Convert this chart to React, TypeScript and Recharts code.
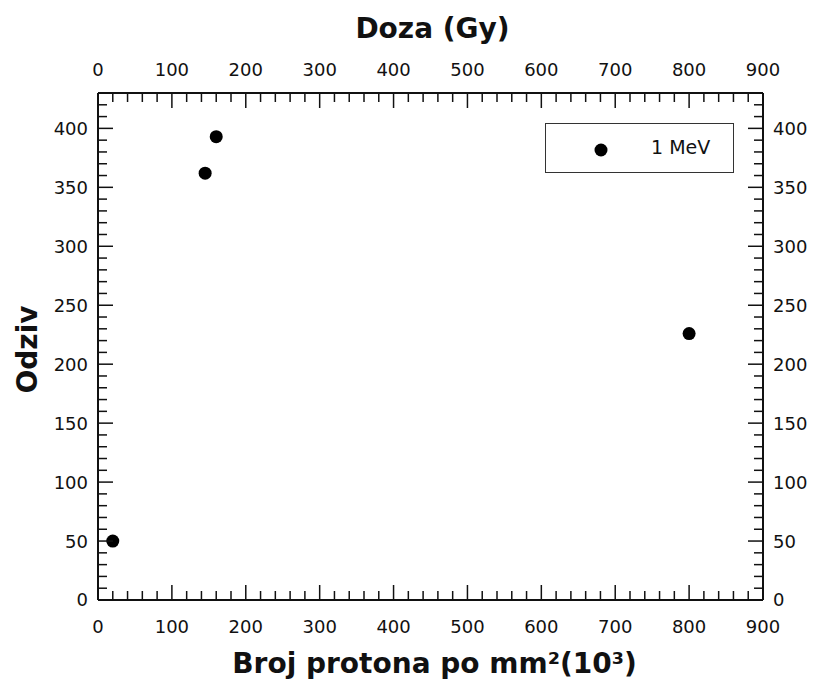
import {
  ScatterChart,
  Scatter,
  XAxis,
  YAxis,
  Legend,
  Label,
} from "recharts";

const FONT = "'DejaVu Sans', Verdana, sans-serif";
const INK = "#111";

// protons per mm^2 (10^3) / dose axis share the same scale
const PROTONS = [20, 145, 160, 800];
const ODZIV = [50, 362, 393, 226];
const SERIES_NAME = "1 MeV";

const X_TICKS = Array.from({ length: 46 }, (_, i) => i * 20);
const Y_TICKS = Array.from({ length: 43 }, (_, i) => i * 10);

const MAJOR = 15;
const MINOR = 9;
const TICK_FONT = 18;
const TITLE_FONT = 28;

const data = PROTONS.map((x, i) => ({ x, y: ODZIV[i] }));

function BottomTick(props: any) {
  const { x, y, payload } = props;
  const major = payload.value % 100 === 0;
  return (
    <g>
      <line x1={x} x2={x} y1={y} y2={y - (major ? MAJOR : MINOR)} stroke={INK} strokeWidth={1.5} />
      {major && (
        <text x={x} y={y + 33} textAnchor="middle" fontSize={TICK_FONT} fontFamily={FONT} fill={INK}>
          {payload.value}
        </text>
      )}
    </g>
  );
}

function TopTick(props: any) {
  const { x, y, payload } = props;
  const major = payload.value % 100 === 0;
  return (
    <g>
      <line x1={x} x2={x} y1={y} y2={y + (major ? MAJOR : MINOR)} stroke={INK} strokeWidth={1.5} />
      {major && (
        <text x={x} y={y - 17} textAnchor="middle" fontSize={TICK_FONT} fontFamily={FONT} fill={INK}>
          {payload.value}
        </text>
      )}
    </g>
  );
}

function LeftTick(props: any) {
  const { x, y, payload } = props;
  const major = payload.value % 50 === 0;
  return (
    <g>
      <line x1={x} x2={x + (major ? MAJOR : MINOR)} y1={y} y2={y} stroke={INK} strokeWidth={1.5} />
      {major && (
        <text x={x - 10} y={y} dy="0.36em" textAnchor="end" fontSize={TICK_FONT} fontFamily={FONT} fill={INK}>
          {payload.value}
        </text>
      )}
    </g>
  );
}

function RightTick(props: any) {
  const { x, y, payload } = props;
  const major = payload.value % 50 === 0;
  return (
    <g>
      <line x1={x} x2={x - (major ? MAJOR : MINOR)} y1={y} y2={y} stroke={INK} strokeWidth={1.5} />
      {major && (
        <text x={x + 10} y={y} dy="0.36em" textAnchor="start" fontSize={TICK_FONT} fontFamily={FONT} fill={INK}>
          {payload.value}
        </text>
      )}
    </g>
  );
}

function Dot(props: any) {
  return <circle cx={props.cx} cy={props.cy} r={6.5} fill="#000" />;
}

function NoDot() {
  return <g />;
}

function LegendBox() {
  return (
    <div
      style={{
        width: 189,
        height: 50,
        boxSizing: "border-box",
        border: "1.5px solid #333",
        background: "#fff",
        position: "relative",
        fontFamily: FONT,
        fontSize: 19,
        color: INK,
      }}
    >
      <svg width={20} height={20} style={{ position: "absolute", left: 45, top: 16 }}>
        <circle cx={10} cy={10} r={6.5} fill="#000" />
      </svg>
      <span style={{ position: "absolute", left: 105, top: 12 }}>{SERIES_NAME}</span>
    </div>
  );
}

const axisLine = { stroke: INK, strokeWidth: 2 };

export default function App() {
  return (
    <ScatterChart width={812} height={678} margin={{ top: 0, right: 0, bottom: 0, left: 0 }}>
      <XAxis
        xAxisId="bottom"
        type="number"
        dataKey="x"
        orientation="bottom"
        domain={[0, 900]}
        ticks={X_TICKS}
        interval={0}
        height={86}
        tickSize={0}
        tickMargin={0}
        axisLine={axisLine}
        tick={<BottomTick />}
      >
        <Label
          content={(p: any) => {
            const vb = p.viewBox;
            return (
              <text x={vb.x + vb.width / 2 + 4} y={vb.y + 73} textAnchor="middle" fontSize={TITLE_FONT} fontWeight="bold" fontFamily={FONT} fill={INK}>
                Broj protona po mm²(10³)
              </text>
            );
          }}
        />
      </XAxis>
      <XAxis
        xAxisId="top"
        type="number"
        dataKey="x"
        orientation="top"
        domain={[0, 900]}
        ticks={X_TICKS}
        interval={0}
        height={85}
        tickSize={0}
        tickMargin={0}
        axisLine={axisLine}
        tick={<TopTick />}
      >
        <Label
          content={(p: any) => {
            const vb = p.viewBox;
            return (
              <text x={vb.x + vb.width / 2 + 2} y={vb.y + 30} textAnchor="middle" fontSize={TITLE_FONT} fontWeight="bold" fontFamily={FONT} fill={INK}>
                Doza (Gy)
              </text>
            );
          }}
        />
      </XAxis>
      <YAxis
        yAxisId="left"
        type="number"
        dataKey="y"
        orientation="left"
        domain={[0, 430]}
        ticks={Y_TICKS}
        interval={0}
        width={90}
        tickSize={0}
        tickMargin={0}
        axisLine={axisLine}
        tick={<LeftTick />}
      >
        <Label
          content={(p: any) => {
            const vb = p.viewBox;
            const cx = vb.x + 29;
            const cy = vb.y + vb.height / 2 + 3;
            return (
              <text x={cx} y={cy} transform={`rotate(-90, ${cx}, ${cy})`} textAnchor="middle" fontSize={TITLE_FONT} fontWeight="bold" fontFamily={FONT} fill={INK}>
                Odziv
              </text>
            );
          }}
        />
      </YAxis>
      <YAxis
        yAxisId="right"
        type="number"
        dataKey="y"
        orientation="right"
        domain={[0, 430]}
        ticks={Y_TICKS}
        interval={0}
        width={57}
        tickSize={0}
        tickMargin={0}
        axisLine={axisLine}
        tick={<RightTick />}
      />
      <Legend
        layout="vertical"
        align="center"
        verticalAlign="middle"
        content={() => <LegendBox />}
        wrapperStyle={{ left: 537, top: 115, width: 189, height: 50 }}
      />
      <Scatter
        name={SERIES_NAME}
        data={data}
        xAxisId="bottom"
        yAxisId="left"
        fill="#000"
        shape={<Dot />}
        isAnimationActive={false}
      />
      {/* hidden twin so the top and right axes get their ticks */}
      <Scatter
        data={data}
        xAxisId="top"
        yAxisId="right"
        legendType="none"
        shape={<NoDot />}
        isAnimationActive={false}
      />
    </ScatterChart>
  );
}
